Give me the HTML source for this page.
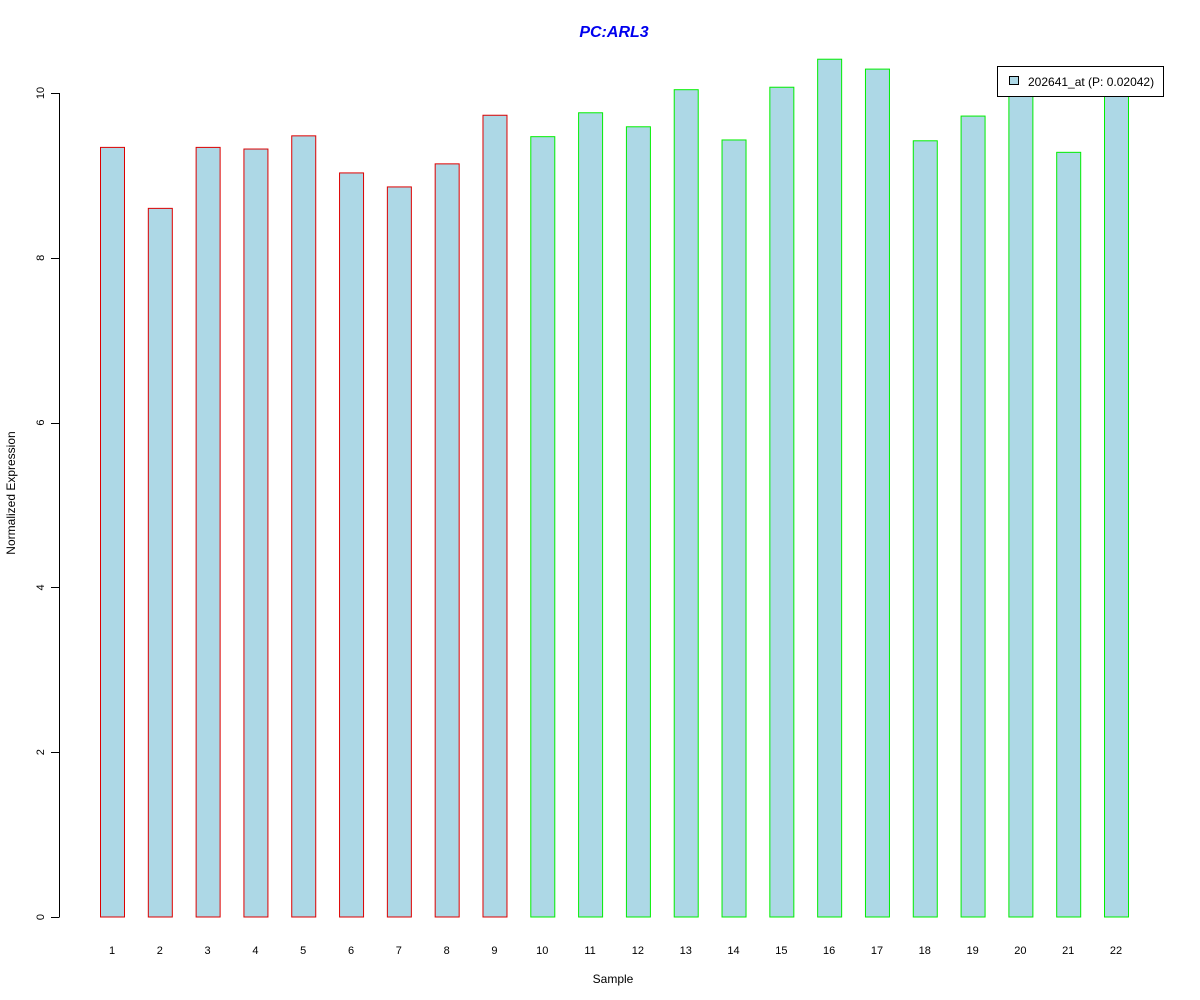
<!DOCTYPE html>
<html><head><meta charset="utf-8"><style>body{margin:0;background:#fff}svg{display:block}</style></head>
<body>
<svg id="chart" width="1200" height="1000" xmlns="http://www.w3.org/2000/svg" font-family="Liberation Sans, sans-serif">
<rect width="1200" height="1000" fill="#fff"/>
<text x="614" y="37" text-anchor="middle" font-size="16" font-weight="bold" font-style="italic" fill="#0000ee">PC:ARL3</text>
<text x="613" y="983" text-anchor="middle" font-size="12">Sample</text>
<text transform="translate(15,493) rotate(-90)" text-anchor="middle" font-size="12">Normalized Expression</text>
<g id="bars"></g><g id="yaxis"></g><g id="xlabels"></g>
<g>
<rect x="997.5" y="66.5" width="166" height="30" fill="#fff" stroke="#000"/>
<rect x="1009.5" y="76.5" width="9" height="8" fill="#add8e6" stroke="#000"/>
<text x="1028" y="86" font-size="12">202641_at (P: 0.02042)</text>
</g>
</svg>
<script>
const categories=["1","2","3","4","5","6","7","8","9","10","11","12","13","14","15","16","17","18","19","20","21","22"];
const values=[9.34,8.60,9.34,9.32,9.48,9.03,8.86,9.14,9.73,9.47,9.76,9.59,10.04,9.43,10.07,10.41,10.29,9.42,9.72,10.1,9.28,10.1];
const groups=[0,0,0,0,0,0,0,0,0,1,1,1,1,1,1,1,1,1,1,1,1,1];
const yTicks=[0,2,4,6,8,10];
const NS="http://www.w3.org/2000/svg";
const y=v=>917-v*82.4;
const x=i=>100+i*47.81;
const bars=document.getElementById('bars'),xl=document.getElementById('xlabels'),ya=document.getElementById('yaxis');
values.forEach((v,i)=>{
 const r=document.createElementNS(NS,'rect');
 
 
 r.setAttribute('x',x(i)+0.5);r.setAttribute('y',y(v));r.setAttribute('width',24);r.setAttribute('height',y(0)-y(v));
 r.setAttribute('fill','#add8e6');r.setAttribute('stroke',groups[i]?'#00ee00':'#dd0000');
 bars.appendChild(r);
 const t=document.createElementNS(NS,'text');
 
 
 t.setAttribute('x',x(i)+12);t.setAttribute('y',954);t.setAttribute('text-anchor','middle');t.setAttribute('font-size','11');
 t.textContent=categories[i];xl.appendChild(t);
});
const ax=document.createElementNS(NS,'line');


ax.setAttribute('x1',59.5);ax.setAttribute('x2',59.5);ax.setAttribute('y1',y(0));ax.setAttribute('y2',y(10));ax.setAttribute('stroke','#000');
ya.appendChild(ax);
yTicks.forEach(v=>{
 const l=document.createElementNS(NS,'line');
 
 
 l.setAttribute('x1',51);l.setAttribute('x2',59.5);l.setAttribute('y1',Math.round(y(v))+0.5);l.setAttribute('y2',Math.round(y(v))+0.5);l.setAttribute('stroke','#000');
 ya.appendChild(l);
 const t=document.createElementNS(NS,'text');
 
 
 t.setAttribute('transform','translate(44,'+y(v)+') rotate(-90)');t.setAttribute('text-anchor','middle');t.setAttribute('font-size','11');
 t.textContent=v;ya.appendChild(t);
});
</script>
</body></html>
